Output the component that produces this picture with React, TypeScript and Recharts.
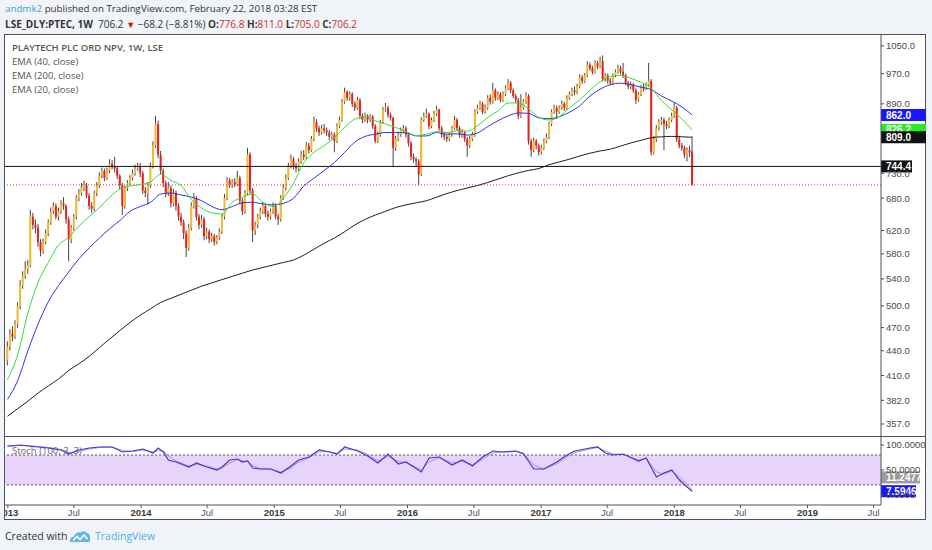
import React from 'react';
import { ComposedChart, Bar, Line, XAxis, YAxis, ReferenceLine, ReferenceArea } from 'recharts';

// ---- weekly candles (week 0 = week of 31 Dec 2012) ----
const closes = [445,462,458,475,500,530,545,555,562,645,
630,625,600,585,600,615,635,655,665,645,
655,670,665,640,605,625,645,680,690,700,
705,685,665,660,690,705,725,735,720,735,
750,745,740,725,705,665,700,710,720,730,
740,745,730,695,690,705,745,790,840,770,
735,710,690,700,670,690,665,645,635,615,
590,625,665,680,645,630,640,610,618,605,
610,600,608,618,645,680,715,705,712,708,
720,675,655,690,770,695,620,630,645,655,
665,650,645,655,665,645,640,680,700,720,
745,760,745,740,755,770,765,790,780,805,
845,830,820,830,825,820,810,815,800,835,
850,895,920,905,915,890,880,900,860,850,
860,850,858,835,800,815,845,875,880,862,
855,785,805,815,825,830,815,795,765,760,
755,728,850,860,865,835,850,865,875,830,
815,810,805,815,830,850,830,815,820,805,
790,805,815,870,880,890,870,880,905,895,
925,905,915,900,915,930,945,925,910,900,
860,880,895,910,800,780,800,790,775,785,
800,810,840,870,880,870,880,890,880,905,
915,925,920,935,960,950,965,995,985,975,
1000,990,1005,955,965,950,945,965,975,985,
975,965,945,935,940,925,900,915,935,930,
940,950,775,805,830,845,850,840,835,850,
860,880,805,790,785,770,780,774.4,706.2];

const highs = [452,468,472,480,505,538,552,568,570,658,
652,640,632,605,606,622,640,662,672,670,
662,676,682,668,645,630,650,686,698,710,
715,710,690,672,695,712,732,742,740,742,
760,758,765,745,728,710,705,716,726,738,
748,752,752,735,702,712,752,800,860,848,
778,740,715,712,705,698,695,670,652,640,
620,632,672,690,684,650,648,645,625,622,
616,614,612,624,650,688,722,720,718,720,
735,725,680,696,785,775,700,636,650,662,
672,670,656,660,672,670,650,686,708,728,
752,770,765,752,762,778,780,798,796,812,
858,852,836,838,840,832,826,822,820,842,
858,902,932,925,922,920,896,908,904,866,
868,864,864,862,840,822,850,882,892,885,
868,858,812,822,832,838,835,820,800,772,
764,760,856,868,878,868,856,872,885,878,
835,822,815,820,836,860,855,835,828,824,
810,812,822,876,888,898,895,888,912,915,
945,930,922,920,922,938,955,950,930,916,
905,915,902,920,915,806,808,805,795,792,
806,818,846,876,888,886,886,898,895,912,
922,932,935,942,968,966,972,1005,1002,992,
1008,1006,1018,1022,972,970,958,970,982,995,
992,1000,970,950,948,945,930,920,940,942,
946,1000,955,812,838,852,858,856,848,856,
868,892,885,812,796,790,786,790,811];

const lows = [422,440,452,455,470,495,525,540,548,558,
622,615,592,576,580,596,610,630,650,640,
638,650,658,632,568,598,620,640,674,685,
694,680,658,652,655,684,700,720,714,716,
730,738,732,718,698,648,660,694,705,715,
725,735,722,688,682,668,700,740,785,762,
728,702,682,684,662,664,656,638,628,605,
575,585,620,660,638,622,625,603,605,598,
600,594,596,604,614,640,676,700,700,702,
704,668,648,650,686,688,600,612,624,640,
650,644,638,640,650,640,630,636,676,695,
716,740,738,732,735,750,758,760,772,776,
800,822,812,815,818,812,802,804,775,796,
830,846,890,898,898,882,872,875,852,842,
845,842,845,828,795,795,810,840,870,855,
848,744,778,800,810,820,808,788,758,752,
745,705,724,845,855,828,830,845,860,824,
808,802,798,800,810,826,824,808,808,798,
765,785,800,810,865,875,864,865,875,888,
890,898,900,894,895,910,925,918,904,892,
852,855,875,890,792,765,775,782,768,770,
780,795,805,835,865,852,865,875,872,876,
900,910,912,915,930,942,945,960,978,968,
970,982,985,948,948,942,938,940,960,970,
968,958,938,928,928,918,890,895,910,922,
925,935,768,770,798,825,838,780,828,830,
845,855,798,784,778,762,755,765,705];

// weekly opens: first week's open, then previous close, last week's open from the header
const opens = [428, ...closes.slice(0, -2), 776.8];

// EMAs read every 4th week
const ema20 = [405,435,490,535,566,595,608,628,645,662,
682,698,704,707,712,728,715,705,677,661,
652,650,672,682,688,672,664,680,710,752,
775,790,808,832,852,857,848,840,832,822,
813,816,822,820,824,823,836,856,872,892,
892,877,856,850,858,880,900,925,948,962,
965,957,946,930,898,875,852,826.2];
const ema40 = [383,404,440,475,506,530,551,572,590,607,
623,638,655,664,672,688,690,686,682,675,
664,658,664,671,672,669,667,670,680,704,
720,736,753,775,798,811,816,820,820,819,
812,812,820,816,817,814,819,834,848,860,
867,866,855,853,858,869,885,910,928,940,
944,940,933,927,910,897,882,862];
const ema200 = [365,373,381,390,398,406,416,424,433,444,
455,466,477,487,496,505,511,517,523,529,
534,539,544,549,554,558,562,566,570,578,
588,598,607,618,630,640,648,655,662,667,
671,675,682,689,695,700,705,711,718,725,
731,736,740,748,754,760,767,773,778,782,
789,796,802,808,810,811,810,809];
const EMA_STEP = 4;

// Stochastic (100, 3, 3)
const stochWeeks = [0,5,10,16,21,24,28,32,36,41,45,49,53,57,59,61,63,66,71,74,78,82,84,87,90,92,94,96,99,103,107,111,114,118,122,126,129,132,137,141,145,149,153,156,162,165,169,174,178,182,186,190,194,199,202,206,210,215,219,222,228,231,234,237,241,247,250,254,257,260,263,266,268];
const stochK = [98,100,97,94,90,82,90,94,96,96,86,88,92,84,94,86,70,66,56,64,56,50,56,70,72,66,68,54,52,52,44,58,70,76,90,86,82,96,88,78,64,82,62,66,46,74,76,60,70,58,76,88,86,88,82,52,52,66,80,88,94,96,84,80,82,68,74,36,44,50,30,16,7.5946];
const stochD = [97,99,98,95,91,85,87,92,95,96,89,87,90,86,89,88,78,68,58,61,58,52,54,64,71,68,67,59,53,52,46,54,66,74,86,87,83,92,90,81,68,77,67,65,50,66,75,64,67,61,71,84,86,87,84,60,52,62,76,85,92,95,88,82,81,70,73,46,42,48,36,21,11.2477];

const priceTicks = [357,382,410,440,470,500,540,580,620,680,730,890,970,1050];
const stochTicks = [0, 50, 100];
const tickDates = ['2013-01-01','2013-07-01','2014-01-01','2014-07-01','2015-01-01','2015-07-01','2016-01-01','2016-07-01','2017-01-01','2017-07-01','2018-01-01','2018-07-01','2019-01-01','2019-07-01'];
const tickLabels = ['2013','Jul','2014','Jul','2015','Jul','2016','Jul','2017','Jul','2018','Jul','2019','Jul'];

const hLevel = 744.4;
const lastClose = closes[closes.length - 1];

// ---- derived tables ----
const START = Date.UTC(2012, 11, 31);
const WEEK = 7 * 86400000;
const xTicks = tickDates.map((s) => (Date.parse(s + 'T00:00:00Z') - START) / WEEK);
const X_DOMAIN: [number, number] = [-0.96, 341.9];

const candleData = closes.map((c, i) => ({
  w: i,
  o: opens[i],
  c,
  h: highs[i],
  l: lows[i],
  hl: [lows[i], highs[i]],
  e20: i % EMA_STEP === 0 ? ema20[i / EMA_STEP] : null,
  e40: i % EMA_STEP === 0 ? ema40[i / EMA_STEP] : null,
  e200: i % EMA_STEP === 0 ? ema200[i / EMA_STEP] : null,
}));
const stochData = stochWeeks.map((w, j) => ({ w, k: stochK[j], d: stochD[j] }));

const AX = "'Liberation Sans', Arial, sans-serif";
const UI = "'Open Sans', 'Noto Sans', sans-serif";
const FRAME = '#4c525e';
const UP = '#f5b835';
const DOWN = '#f01d1d';

const Candle = (props: any) => {
  const { x, y, width, height, payload } = props;
  if (x == null || y == null || !payload) return null;
  const cx = x + width / 2;
  const { o, c, h, l } = payload;
  const lh = Math.log(h);
  const ll = Math.log(l);
  const span = lh - ll || 1;
  const pix = (v: number) => y + ((lh - Math.log(v)) / span) * height;
  const top = pix(Math.max(o, c));
  const bot = pix(Math.min(o, c));
  const color = c >= o ? UP : DOWN;
  return (
    <g>
      <line x1={cx} x2={cx} y1={y} y2={y + height} stroke="#454545" strokeWidth={1} />
      <rect x={cx - 1} y={top} width={2} height={Math.max(1, bot - top)} fill={color} />
    </g>
  );
};

const PriceTag = (props: any) => {
  const { viewBox, text, bg, fg = '#ffffff', dy = 0, w = 32 } = props;
  if (!viewBox) return null;
  const x0 = viewBox.x + viewBox.width;
  const yc = viewBox.y + dy;
  return (
    <g>
      <rect x={x0} y={yc - 6} width={w} height={12} fill={bg} />
      <text x={x0 + 5} y={yc + 3.6} fill={fg} fontSize={10} fontWeight={700} fontFamily={AX}>
        {text}
      </text>
    </g>
  );
};

const XTick = (props: any) => {
  const { x, y, payload } = props;
  const idx = xTicks.findIndex((t) => Math.abs(t - payload.value) < 1e-6);
  const label = idx >= 0 ? tickLabels[idx] : '';
  const isYear = /^\d{4}$/.test(label);
  return (
    <text x={x} y={y} dy={6} textAnchor="middle" fontSize={9.5} fontFamily={AX} fill={isYear ? '#3a3a3a' : '#555'} fontWeight={isYear ? 700 : 400}>
      {label}
    </text>
  );
};

const Logo = () => (
  <svg width={22} height={13} viewBox="0 0 22 13" style={{ position: 'absolute', left: 69, top: 530 }}>
    <path d="M1 12 Q0.5 7 5 6.5 Q7 1.5 12 2.5 Q15 0 18 3 Q21.5 4 21 8 Q22 12 19 12 Z" fill="#5fb6e6" />
    <polyline points="4,10.5 8,6.5 11,9.5 15,5 18.5,9" fill="none" stroke="#ffffff" strokeWidth={1.6} />
  </svg>
);

export default function App() {
  const last20 = ema20[ema20.length - 1];
  const last40 = ema40[ema40.length - 1];
  const last200 = ema200[ema200.length - 1];
  const lastK = stochK[stochK.length - 1];
  const lastD = stochD[stochD.length - 1];
  const red = '#c9302c';
  return (
    <div style={{ position: 'absolute', left: 0, top: 0, width: 932, height: 550, background: '#f0f3f7', overflow: 'hidden', fontFamily: UI, color: '#333' }}>
      {/* header */}
      <div style={{ position: 'absolute', left: 5, top: 2, fontSize: 9.75, lineHeight: '14px', whiteSpace: 'nowrap' }}>
        <span style={{ color: '#3aa3dc' }}>andmk2</span> published on TradingView.com, February 22, 2018 03:28 EST
      </div>
      <div style={{ position: 'absolute', left: 5, top: 17, fontSize: 10, lineHeight: '14px', whiteSpace: 'nowrap' }}>
        <b>LSE_DLY:PTEC, 1W</b>&nbsp; 706.2 <span style={{ color: '#b71c1c', fontSize: 9 }}>▼</span> −68.2 (−8.81%){' '}
        <b>O:</b><span style={{ color: red }}>776.8</span> <b>H:</b><span style={{ color: red }}>811.0</span>{' '}
        <b>L:</b><span style={{ color: red }}>705.0</span> <b>C:</b><span style={{ color: red }}>706.2</span>
      </div>

      {/* frame */}
      <div style={{ position: 'absolute', left: 4, top: 34, width: 922, height: 486, border: `1px solid ${FRAME}`, boxSizing: 'border-box', background: '#ffffff' }} />
      <div style={{ position: 'absolute', left: 4, top: 436, width: 922, height: 1, background: FRAME }} />

      {/* pane legend */}
      <div style={{ position: 'absolute', left: 12, top: 41, fontSize: 9.5, lineHeight: '14px', color: '#555', whiteSpace: 'nowrap' }}>
        <div style={{ fontWeight: 600 }}>PLAYTECH PLC ORD NPV, 1W, LSE</div>
        <div>EMA (40, close)</div>
        <div>EMA (200, close)</div>
        <div>EMA (20, close)</div>
      </div>
      <div style={{ position: 'absolute', left: 12, top: 444, fontSize: 9.5, lineHeight: '14px', color: '#666', whiteSpace: 'nowrap' }}>
        Stoch (100, 3, 3)
      </div>

      {/* main pane */}
      <div style={{ position: 'absolute', left: 5, top: 35 }}>
        <ComposedChart width={921} height={401} data={candleData} margin={{ top: 0, right: 0, bottom: 0, left: 0 }}>
          <XAxis dataKey="w" type="number" domain={X_DOMAIN} allowDataOverflow hide ticks={xTicks} />
          <YAxis
            orientation="right"
            width={45}
            type="number"
            scale="log"
            domain={[345, 1083]}
            allowDataOverflow
            ticks={priceTicks}
            interval={0}
            tickFormatter={(v: number) => v.toFixed(1)}
            tick={{ fontSize: 9.5, fill: '#4a4a4a', fontFamily: AX }}
            tickLine={{ stroke: '#4a4a4a' }}
            tickSize={3}
            tickMargin={2}
            axisLine={{ stroke: FRAME }}
          />
          <ReferenceLine y={lastClose} stroke="#ff2b2b" strokeDasharray="1 2" />
          <ReferenceLine y={hLevel} stroke="#111" strokeWidth={1} />
          <Bar dataKey="hl" barSize={3} isAnimationActive={false} shape={(p: any) => <Candle {...p} />} />
          <Line dataKey="e200" type="monotone" stroke="#1e1e1e" strokeWidth={1} dot={false} connectNulls isAnimationActive={false} />
          <Line dataKey="e40" type="monotone" stroke="#3030f0" strokeWidth={1} dot={false} connectNulls isAnimationActive={false} />
          <Line dataKey="e20" type="monotone" stroke="#33dd33" strokeWidth={1} dot={false} connectNulls isAnimationActive={false} />
          <ReferenceLine y={last40} stroke="none" label={<PriceTag text={last40.toFixed(1)} bg="#1717ff" w={45} />} />
          <ReferenceLine y={last20} stroke="none" label={<PriceTag text={last20.toFixed(1)} bg="#22ee22" w={45} />} />
          <ReferenceLine y={last200} stroke="none" label={<PriceTag text={last200.toFixed(1)} bg="#111111" w={45} />} />
          <ReferenceLine y={hLevel} stroke="none" label={<PriceTag text={hLevel.toFixed(1)} bg="#111111" w={31} />} />
        </ComposedChart>
      </div>

      {/* stochastic pane */}
      <div style={{ position: 'absolute', left: 5, top: 437 }}>
        <ComposedChart width={921} height={83} data={stochData} margin={{ top: 0, right: 0, bottom: 0, left: 0 }}>
          <XAxis
            dataKey="w"
            type="number"
            domain={X_DOMAIN}
            allowDataOverflow
            ticks={xTicks}
            interval={0}
            height={15}
            tick={<XTick />}
            tickSize={3}
            tickLine={{ stroke: FRAME }}
            axisLine={{ stroke: FRAME }}
          />
          <YAxis
            orientation="right"
            width={45}
            type="number"
            domain={[-20, 116]}
            allowDataOverflow
            ticks={stochTicks}
            interval={0}
            tickFormatter={(v: number) => v.toFixed(4)}
            tick={{ fontSize: 9.5, fill: '#4a4a4a', fontFamily: AX }}
            tickLine={{ stroke: '#4a4a4a' }}
            tickSize={3}
            tickMargin={2}
            axisLine={{ stroke: FRAME }}
          />
          <ReferenceArea y1={20} y2={80} fill="#e8d4fb" fillOpacity={1} stroke="none" />
          <ReferenceLine y={80} stroke="#555" strokeDasharray="2 2" />
          <ReferenceLine y={20} stroke="#555" strokeDasharray="2 2" />
          <Line dataKey="d" type="linear" stroke="#a795e8" strokeWidth={1} dot={false} isAnimationActive={false} />
          <Line dataKey="k" type="linear" stroke="#4535c8" strokeWidth={1.2} dot={false} isAnimationActive={false} />
          <ReferenceLine y={lastD} stroke="none" label={<PriceTag text={lastD.toFixed(4)} bg="#9c9c9c" dy={-12} w={39} />} />
          <ReferenceLine y={lastK} stroke="none" label={<PriceTag text={lastK.toFixed(4)} bg="#1717ff" w={35} />} />
        </ComposedChart>
      </div>

      {/* footer */}
      <div style={{ position: 'absolute', left: 5, top: 529, fontSize: 10.5, lineHeight: '14px', color: '#333', whiteSpace: 'nowrap' }}>Created with</div>
      <Logo />
      <div style={{ position: 'absolute', left: 95, top: 529, fontSize: 10.5, lineHeight: '14px', color: '#4eaee3', whiteSpace: 'nowrap' }}>TradingView</div>
    </div>
  );
}
